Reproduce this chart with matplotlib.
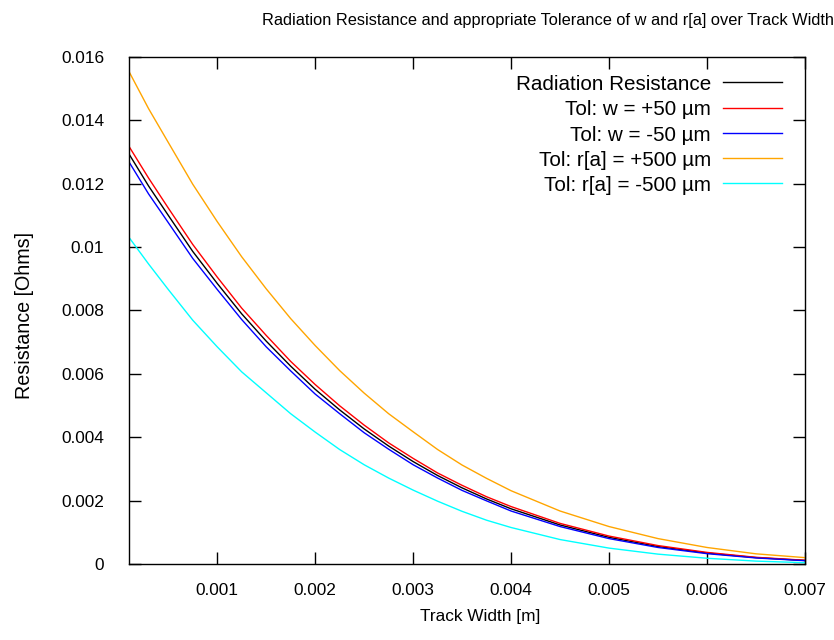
import matplotlib
matplotlib.use("Agg")
import matplotlib.pyplot as plt
from matplotlib.ticker import FuncFormatter, MultipleLocator

plt.rcParams['font.family'] = ['Liberation Sans', 'DejaVu Sans']

# track width [m]
width = [0.0001, 0.0003, 0.0005, 0.00075, 0.001, 0.00125, 0.0015, 0.00175,
         0.002, 0.00225, 0.0025, 0.00275, 0.003, 0.00325, 0.0035, 0.00375,
         0.004, 0.0045, 0.005, 0.0055, 0.006, 0.0065, 0.007]

# resistance [Ohms]
r_nom = [0.01293, 0.01192, 0.0110, 0.00986, 0.00885, 0.00789, 0.00703, 0.00624,
         0.00551, 0.00486, 0.00426, 0.00372, 0.00323, 0.00279, 0.0024, 0.00205,
         0.00174, 0.00123, 0.00084, 0.00055, 0.000345, 0.0002, 0.00011]
r_w_plus = [0.01317, 0.01217, 0.01123, 0.01008, 0.00905, 0.00807, 0.00721, 0.00639,
            0.00566, 0.00499, 0.00438, 0.00382, 0.00333, 0.00287, 0.00248, 0.00212,
            0.00181, 0.00128, 0.00088, 0.00058, 0.000365, 0.00021, 0.000117]
r_w_minus = [0.01268, 0.01167, 0.01077, 0.00964, 0.00866, 0.00771, 0.00685, 0.00609,
             0.00536, 0.00474, 0.00414, 0.00362, 0.00313, 0.00271, 0.00232, 0.00199,
             0.00167, 0.00118, 0.0008, 0.00052, 0.000325, 0.00019, 0.000103]
r_ra_plus = [0.01553, 0.01436, 0.0133, 0.01198, 0.0108, 0.00969, 0.00868, 0.00774,
             0.00689, 0.0061, 0.00539, 0.00474, 0.00417, 0.00361, 0.00312, 0.0027,
             0.00231, 0.00167, 0.00118, 0.0008, 0.00052, 0.00032, 0.0002]
r_ra_minus = [0.0103, 0.00946, 0.00866, 0.00769, 0.00685, 0.00606, 0.0054, 0.00474,
              0.00416, 0.00361, 0.00313, 0.00271, 0.00233, 0.00198, 0.00166, 0.00138,
              0.00115, 0.00077, 0.0005, 0.00031, 0.00018, 0.00009, 0.00004]

labels = ["Radiation Resistance", "Tol: w = +50 µm", "Tol: w = -50 µm",
          "Tol: r[a] = +500 µm", "Tol: r[a] = -500 µm"]
colors = ["#000000", "#ff0000", "#0000ff", "#ffa500", "#00ffff"]

fig = plt.figure(figsize=(8.34, 6.4), dpi=100)
ax = fig.add_axes([0.1547, 0.1188, 0.8105, 0.7926])

for ys, lab, c in zip([r_nom, r_w_plus, r_w_minus, r_ra_plus, r_ra_minus], labels, colors):
    ax.plot(width, ys, color=c, lw=1.0, label=lab)

ax.set_xlim(0.0001, 0.007)
ax.set_ylim(0, 0.016)
ax.xaxis.set_major_locator(MultipleLocator(0.001))
ax.yaxis.set_major_locator(MultipleLocator(0.002))
fmt = FuncFormatter(lambda v, p: "%g" % round(v, 6))
ax.xaxis.set_major_formatter(fmt)
ax.yaxis.set_major_formatter(fmt)
ax.tick_params(direction='in', length=8.6, width=1, top=True, right=True,
               labelsize=12.4)
ax.tick_params(axis='x', pad=14)
ax.tick_params(axis='y', pad=18)
for s in ax.spines.values():
    s.set_linewidth(1.0)

ax.set_xlabel("Track Width [m]", fontsize=12.4)
ax.xaxis.set_label_coords(0.52, -0.089)
ax.set_ylabel("Resistance [Ohms]", fontsize=14.2)
ax.yaxis.set_label_coords(-0.14, 0.49)
fig.text(0.657, 0.968, "Radiation Resistance and appropriate Tolerance of w and r[a] over Track Width",
         ha='center', va='center', fontsize=11.8)

leg = ax.legend(loc='upper right', bbox_to_anchor=(0.978, 0.98), borderaxespad=0,
                frameon=False, markerfirst=False, fontsize=14.9,
                handlelength=2.84, handletextpad=0.58, labelspacing=0.3)
vp = leg._legend_box._children[-1]._children[0]
for c in vp._children:
    c.align = 'right'

fig.savefig("out.png", dpi=100)
